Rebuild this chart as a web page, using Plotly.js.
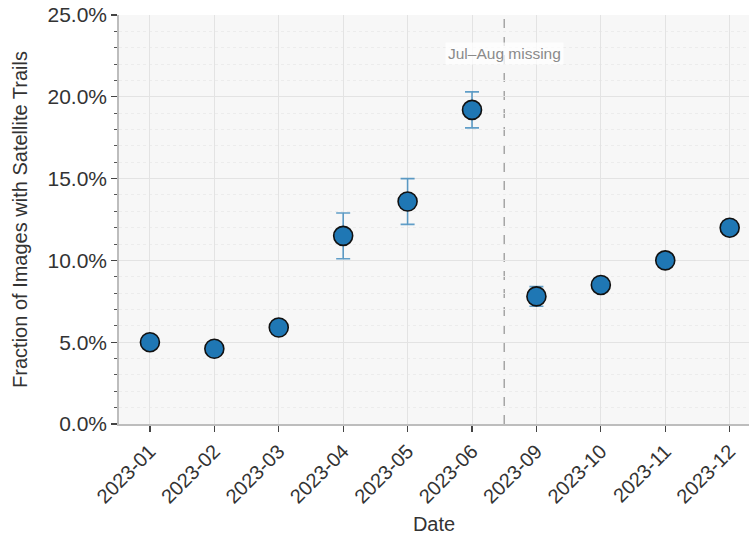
<!DOCTYPE html>
<html>
<head>
<meta charset="utf-8">
<script src="https://cdn.plot.ly/plotly-3.0.1.min.js"></script>
<style>
  html, body { margin: 0; padding: 0; background: #ffffff; }
  #chart { width: 749px; height: 535px; }
</style>
</head>
<body>
<div id="chart"></div>
<script>
// Monthly share of images with satellite trails (July and August absent)
const months = ["2023-01", "2023-02", "2023-03", "2023-04", "2023-05",
                "2023-06", "2023-09", "2023-10", "2023-11", "2023-12"];
const fraction = [0.050, 0.046, 0.059, 0.115, 0.136, 0.192, 0.078, 0.085, 0.100, 0.120];
const fractionErr = [0.003, 0.003, 0.003, 0.014, 0.014, 0.011, 0.006, 0.004, 0.004, 0.004];
const gapLabel = "Jul\u2013Aug missing";

const font = "Liberation Sans, Arial, Helvetica, sans-serif";

const trace = {
  type: "scatter",
  mode: "markers",
  x: months,
  y: fraction,
  error_y: {
    type: "data",
    array: fractionErr,
    visible: true,
    color: "rgba(31,119,180,0.7)",
    thickness: 1.6,
    width: 7
  },
  marker: {
    size: 19,
    color: "#1f77b4",
    line: { color: "#111111", width: 1.6 }
  },
  hoverinfo: "x+y"
};

const layout = {
  width: 749,
  height: 535,
  margin: { l: 119, r: 0, t: 15, b: 111 },
  paper_bgcolor: "#ffffff",
  plot_bgcolor: "#f7f7f7",
  showlegend: false,
  font: { family: font, color: "#333333", size: 16 },
  xaxis: {
    type: "category",
    range: [-0.48, 9.3],
    tickangle: -45,
    tickfont: { size: 20, color: "#333333" },
    ticks: "outside",
    ticklen: 6,
    tickwidth: 1.3,
    tickcolor: "#444444",
    showline: true,
    linecolor: "#bdbdbd",
    linewidth: 1.8,
    showgrid: true,
    gridcolor: "#e3e3e3",
    gridwidth: 1,
    zeroline: false,
    title: { text: "Date", font: { size: 20, color: "#333333" }, standoff: 16 }
  },
  yaxis: {
    range: [0, 0.25],
    dtick: 0.05,
    tickformat: ".1%",
    tickfont: { size: 21, color: "#333333" },
    ticks: "outside",
    ticklen: 6,
    tickwidth: 1.3,
    tickcolor: "#444444",
    showline: true,
    linecolor: "#bdbdbd",
    linewidth: 1.8,
    showgrid: true,
    gridcolor: "#e3e3e3",
    gridwidth: 1,
    zeroline: false,
    minor: {
      dtick: 0.01,
      ticks: "outside",
      ticklen: 3,
      tickcolor: "#555555",
      tickwidth: 1,
      showgrid: true,
      gridcolor: "#ececec",
      griddash: "dot",
      gridwidth: 1
    },
    title: { text: "Fraction of Images with Satellite Trails", font: { size: 20, color: "#333333" }, standoff: 14 }
  },
  shapes: [{
    type: "line",
    xref: "x",
    yref: "paper",
    x0: 5.5, x1: 5.5,
    y0: 0, y1: 1,
    line: { color: "#9a9a9a", width: 1.3, dash: "dash" },
    layer: "below"
  }],
  annotations: [{
    xref: "x",
    yref: "y",
    x: 5.5,
    y: 0.2265,
    text: gapLabel,
    showarrow: false,
    font: { size: 15.5, color: "#8a8a8a", family: font },
    bgcolor: "rgba(255,255,255,0.75)",
    borderpad: 2
  }]
};

Plotly.newPlot("chart", [trace], layout, { displayModeBar: false, staticPlot: true });
</script>
</body>
</html>
